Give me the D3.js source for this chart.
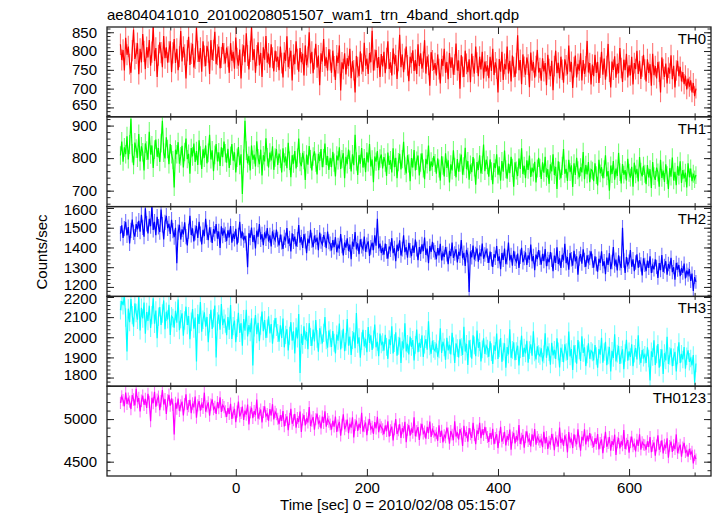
<!DOCTYPE html>
<html><head><meta charset="utf-8">
<script src="https://cdn.jsdelivr.net/npm/d3@7"></script>
<style>body{margin:0;background:#fff} svg{display:block} text{font-family:"Liberation Sans",Arial,Helvetica,sans-serif;}</style>
</head><body><svg id="c" width="717" height="516"></svg>
<script>
const title = "ae804041010_20100208051507_wam1_trn_4band_short.qdp";
const xLabel = "Time [sec] 0 = 2010/02/08 05:15:07";
const yLabel = "Counts/sec";
const bandNames = ["TH0", "TH1", "TH2", "TH3", "TH0123"];
const tStart = -177, binSec = 2;

const th0 = [
818,776,803,748,835,790,812,765,742,801,857,779,794,821,738,806,770,845,799,752,
810,783,829,761,797,866,774,808,731,789,823,796,757,840,781,810,769,798,826,744,
795,832,768,806,749,785,853,772,811,790,727,801,838,763,794,819,756,780,862,799,
771,808,745,826,787,760,814,797,739,829,776,802,851,765,790,812,754,783,821,793,
767,809,785,742,821,774,798,753,836,781,761,804,727,790,815,770,847,788,751,799,
864,776,805,742,788,823,762,795,731,810,777,840,769,793,756,818,782,746,801,772,
785,749,812,768,730,796,774,839,757,781,801,722,790,765,826,778,745,808,770,793,
735,815,762,784,850,767,798,741,779,819,756,788,709,794,772,832,760,783,748,805,
776,742,801,759,723,788,768,815,695,770,752,794,738,781,760,806,728,773,749,690,
787,757,733,799,766,745,822,761,780,739,795,770,854,748,776,803,755,784,731,792,
759,798,741,781,826,752,770,735,807,765,789,726,774,843,757,791,744,779,812,762,
720,785,768,802,747,776,739,818,760,794,753,771,829,740,786,763,708,797,775,750,
768,735,791,752,714,779,760,806,742,771,725,795,756,783,737,764,820,748,775,700,
789,758,731,801,766,744,778,717,793,759,740,812,769,733,785,751,798,727,772,746,
762,728,785,747,806,736,770,753,690,779,745,798,723,766,751,812,740,774,719,788,
757,731,768,842,749,776,712,791,758,737,783,764,704,796,748,771,729,760,803,743,
755,721,781,746,768,709,790,752,733,774,696,760,801,741,769,727,785,750,716,778,
762,738,815,745,771,702,757,788,730,766,748,794,722,776,739,759,827,743,768,711,
764,733,790,742,771,715,756,798,737,780,724,760,819,745,703,772,750,786,729,766,
741,808,755,718,777,749,793,730,762,735,785,711,768,752,801,739,774,726,759,790,
751,719,778,742,765,708,793,736,760,727,771,745,690,783,752,731,767,714,756,740,
789,725,761,703,748,774,733,758,719,744,712,735,698,727,705,722,690,715,680,700];

const th1 = [
808,851,789,833,812,867,796,842,921,815,778,848,829,801,874,790,836,818,762,845,
823,795,881,811,839,770,826,857,804,831,788,846,915,817,799,864,828,781,843,812,
794,710,826,812,849,783,806,838,771,819,860,797,813,752,831,805,845,788,822,779,
855,808,767,827,801,839,784,816,872,796,824,760,810,843,790,818,776,833,803,851,
815,786,829,770,807,843,792,818,756,801,834,778,812,690,798,915,823,784,807,762,
839,795,811,774,852,800,781,826,747,809,790,861,803,771,817,793,836,764,802,828,
779,814,798,756,830,787,805,769,847,792,741,809,783,822,768,801,860,788,775,816,
794,733,811,780,837,797,762,805,821,786,750,813,791,828,772,800,845,779,806,764,
801,772,819,786,744,808,793,833,767,797,815,738,804,781,826,795,759,812,778,872,
790,748,809,783,831,771,800,757,818,787,843,774,796,726,805,789,822,763,799,811,
768,803,786,745,817,779,794,756,830,772,801,738,788,813,765,797,850,776,753,809,
784,729,800,771,825,762,792,808,747,786,815,768,735,798,781,839,760,790,773,806,
785,752,799,768,731,806,777,744,815,770,793,725,781,762,824,773,741,797,758,786,
811,749,775,832,766,791,734,780,757,803,771,718,788,764,809,753,779,842,760,795,
778,743,796,760,720,785,769,812,749,775,731,791,758,823,766,737,783,754,804,770,
712,787,762,745,799,767,830,751,776,738,793,764,808,742,771,756,789,725,768,801,
770,736,787,755,804,742,766,721,781,759,812,748,773,705,790,761,738,776,828,752,
767,730,795,757,778,711,784,748,801,763,741,772,756,819,735,779,750,788,726,765,
761,729,784,748,716,795,753,772,738,766,809,744,760,700,777,751,791,734,768,745,
816,757,722,782,749,763,731,798,755,740,773,712,786,750,767,728,803,758,744,776,
752,720,779,741,766,708,788,745,733,771,756,712,795,739,762,727,781,748,705,769,
743,802,731,758,717,776,746,790,724,763,738,755,710,784,741,768,729,752,735,748];

const th2 = [
1470,1512,1448,1495,1530,1461,1503,1420,1487,1541,1476,1455,1518,1492,
1535,1480,1566,1502,1455,1598,1520,1471,1545,1508,1612,1489,1530,1462,1555,1505,1478,1592,1515,1440,1527,1560,1497,1520,1468,1540,
1485,1452,1500,1320,1478,1515,1440,1492,1466,1528,1455,1410,1482,1561,1463,1497,1431,1474,1509,1448,
1530,1468,1415,1489,1457,1545,1476,1437,1502,1465,1423,1493,1470,1518,1445,1481,1398,1507,1460,1488,
1466,1432,1487,1451,1508,1424,1470,1443,1495,1415,1462,1530,1447,1480,1436,1459,1421,1300,1472,1449,
1501,1428,1463,1395,1485,1454,1519,1440,1467,1412,1477,1446,1498,1430,1461,1405,1482,1452,1436,1490,
1442,1410,1465,1428,1393,1451,1437,1498,1419,1446,1380,1472,1430,1455,1405,1440,1513,1424,1452,1398,
1468,1433,1371,1445,1421,1489,1436,1402,1460,1427,1450,1386,1475,1431,1415,1463,1440,1397,1481,1429,
1418,1385,1437,1402,1452,1376,1411,1394,1468,1408,1360,1425,1399,1446,1382,1415,1340,1430,1404,1478,
1390,1421,1366,1441,1407,1392,1455,1378,1413,1431,1357,1400,1424,1386,1462,1409,1545,1395,1419,1372,
1398,1364,1420,1380,1343,1405,1389,1447,1371,1396,1330,1414,1383,1436,1359,1392,1462,1376,1401,1348,
1423,1385,1356,1409,1373,1440,1391,1335,1402,1368,1416,1381,1450,1362,1394,1320,1407,1377,1428,1386,
1375,1340,1397,1360,1418,1334,1371,1352,1402,1366,1315,1383,1356,1425,1347,1369,1391,1324,1378,1358,
1437,1345,1373,1306,1388,1361,1175,1380,1350,1410,1339,1367,1395,1328,1374,1355,1420,1343,1364,1386,
1358,1322,1379,1340,1301,1366,1348,1407,1331,1355,1290,1372,1337,1394,1315,1351,1425,1334,1362,1308,
1383,1343,1327,1369,1296,1353,1398,1325,1346,1375,1312,1360,1338,1415,1330,1356,1285,1364,1341,1387,
1348,1313,1368,1331,1392,1305,1342,1325,1377,1338,1280,1359,1322,1401,1316,1345,1296,1363,1334,1418,
1320,1351,1287,1372,1340,1308,1383,1329,1355,1262,1344,1366,1318,1390,1336,1302,1360,1327,1347,1380,
1332,1298,1355,1316,1277,1343,1321,1380,1305,1330,1264,1349,1312,1371,1290,1326,1402,1308,1338,1283,
1360,1319,1296,1500,1334,1271,1352,1311,1328,1387,1302,1340,1280,1324,1365,1297,1336,1314,1258,1345,
1312,1280,1334,1296,1355,1271,1308,1289,1340,1302,1246,1321,1285,1362,1276,1306,1330,1262,1316,1293,
1348,1275,1300,1237,1322,1288,1311,1254,1296,1272,1318,1243,1283,1262,1290,1230,1268,1180,1250,1226];

const th3 = [
2135,2180,2160,2205,2098,1930,2142,2075,2190,2110,2052,2168,2121,2087,2200,2034,2146,2093,2172,2018,
2125,2081,2157,2046,2110,2194,2067,2133,1995,2102,2150,2061,2118,2183,2040,2127,2089,2161,2012,2105,
2096,2048,2131,2072,2187,2035,2090,2119,2008,2083,2152,2061,2105,1990,2077,2140,2043,2098,1880,2115,
2066,2175,2028,2087,2124,2053,2101,1975,2070,2136,2041,2094,2158,1900,2079,2113,2037,2165,2060,2092,
2068,2010,2101,2037,2160,1992,2055,2083,1975,2046,2122,2021,2070,1958,2090,2033,2137,2004,2061,2025,
2094,1860,2049,2110,2015,2072,1981,2058,2128,2030,2085,1997,2043,2104,2019,2066,1968,2039,2095,2052,
2021,1978,2060,1996,2093,1950,2012,2040,1935,2008,2075,1983,2030,1920,2049,1994,2115,1823,2017,1962,
2054,1988,2026,1941,2070,2001,1957,2038,1979,2085,1992,1928,2045,2010,1969,2022,2100,1985,1948,2034,
1995,1952,2031,1973,1920,2014,1983,2068,1940,1990,2042,1931,1977,2090,1958,2004,1912,1986,2025,1946,
2120,1968,2000,1899,1981,2037,1955,1992,1926,2051,1972,2010,1937,1989,2063,1950,1978,1906,2018,1965,
1975,1933,2012,1952,1893,1990,1961,2055,1920,1971,2025,1908,1958,1999,1872,1980,1944,2070,1930,1967,
1915,2003,1952,1986,1885,1962,2038,1926,1973,1948,2010,1902,1964,1991,1938,2080,1955,1918,1983,1942,
1932,1969,1903,1940,2045,1922,1978,1950,1888,1997,1935,1963,1915,2022,1955,1873,1970,1946,1900,1990,
1951,1912,2052,1929,1967,1862,1985,1943,1894,2010,1960,1906,2033,1948,1976,1880,1940,1995,1917,1958,
1944,1903,1980,1926,1867,1960,1933,2018,1892,1945,1996,1878,1929,1970,1849,1951,1915,2040,1898,1937,
1975,1886,1931,1958,1860,1941,2008,1902,1948,1920,1983,1874,1936,1965,1908,2030,1925,1890,1955,1917,
1907,1945,1880,1915,2020,1898,1955,1926,1864,1973,1910,1938,1892,1995,1930,1850,1948,1921,1876,1965,
1927,1888,2028,1905,1941,1838,1960,1918,1869,1986,1935,1882,2005,1922,1950,1857,1915,1970,1893,1933,
1925,1885,1961,1907,1849,1942,1914,1997,1874,1927,1978,1861,1910,1952,1830,1933,1897,2015,1880,1919,
1957,1868,1913,1940,1842,1922,1987,1884,1930,1902,1965,1856,1918,1947,1890,2010,1907,1872,1937,1899,
1913,1873,1950,1895,1785,1930,1902,1985,1862,1915,1966,1849,1898,1940,1818,1921,1885,2003,1868,1907,
1945,1856,1901,1928,1830,1910,1975,1872,1918,1890,1952,1844,1906,1935,1878,1895,1860,1912,1775,1870];

const th0123 = [
5190,5265,5222,5150,5310,5178,5240,5205,5118,5282,5230,5160,5355,5199,5247,5090,5215,5276,5168,5238,
5130,5296,5201,4975,5250,5187,5320,5145,5228,5263,5105,5210,5340,5172,5235,5060,5218,5285,5157,5244,
5168,4820,5189,5122,5240,5095,5160,5205,5043,5176,5290,5110,5152,5227,5070,5183,5138,5265,5015,5162,
5210,5098,5175,5130,5310,5087,5150,5196,5040,5171,5232,5116,5143,5060,5200,5127,5255,5085,5165,5140,
5092,5025,5128,5061,5180,5003,5077,5120,4965,5088,5205,5030,5071,5146,4990,5100,5052,5170,4938,5080,
5133,5012,5095,5047,5230,5005,5066,5112,4960,5083,5150,5035,5060,4980,5118,5042,5175,4997,5085,5056,
5003,4940,5045,4978,5095,4915,4990,5032,4870,5000,5120,4945,4987,5060,4900,5012,4965,5088,4850,4995,
5048,4925,5010,4960,5140,4918,4982,5025,4875,4998,5065,4950,4975,4890,5030,4955,5092,4910,5000,4970,
4938,4877,4980,4912,5030,4850,4925,4967,4805,4935,5055,4880,4922,4995,4835,4947,4900,5022,4785,4930,
4983,4860,4945,4895,5075,4853,4917,4960,4810,4933,5000,4885,4910,4825,4965,4890,5027,4845,4935,4905,
4880,4822,4925,4858,4975,4795,4870,4912,4750,4880,5000,4825,4867,4940,4780,4892,4845,4967,4730,4875,
4928,4805,4890,4840,5020,4798,4862,4905,4755,4878,4945,4830,4855,4770,4910,4835,4972,4790,4880,4850,
4805,4835,4745,4927,4790,4865,4725,4810,4785,4900,4833,4710,4860,4817,4753,4975,4795,4845,4760,4883,
4830,4685,4922,4800,4847,4735,4895,4822,4780,4955,4813,4705,4867,4825,4955,4777,4880,4813,4910,4835,
4790,4732,4835,4768,4885,4705,4780,4822,4660,4790,4910,4735,4777,4850,4690,4802,4755,4877,4640,4785,
4838,4715,4800,4750,4930,4708,4772,4815,4665,4788,4855,4740,4765,4680,4820,4745,4882,4700,4790,4760,
4730,4760,4670,4852,4715,4790,4650,4735,4710,4825,4758,4635,4785,4742,4678,4900,4720,4770,4685,4808,
4755,4610,4847,4725,4772,4660,4820,4747,4705,4880,4738,4630,4792,4750,4880,4702,4805,4738,4835,4760,
4730,4672,4775,4708,4825,4645,4720,4762,4600,4730,4850,4675,4717,4790,4630,4742,4695,4817,4580,4725,
4778,4655,4740,4690,4870,4648,4712,4755,4605,4728,4795,4680,4705,4620,4760,4685,4822,4640,4730,4700,
4695,4640,4740,4672,4790,4612,4685,4725,4570,4692,4810,4640,4678,4750,4598,4700,4658,4775,4548,4685,
4735,4615,4695,4648,4820,4600,4660,4700,4560,4668,4720,4610,4630,4560,4650,4590,4620,4480,4575,4530];

const series = [th0, th1, th2, th3, th0123];
const yTicks = [[650,700,750,800,850],[700,800,900],[1200,1300,1400,1500,1600],[1800,1900,2000,2100,2200],[4500,5000]];
const yMinorStep = [10, 20, 20, 20, 100];
const yDomains = [[625,864],[651,927],[1152,1607],[1757,2203],[4332,5386]];
const xDomain = [-196.5, 725];
const xTickMajor = [0, 200, 400, 600];
const xTickMinor = [-100, 100, 300, 500, 700];
const colors = ["#ff0000", "#00ff00", "#0000ff", "#00ffff", "#ff00ff"];

const svg = d3.select("#c");
const L = 107, R = 711, T0 = 27, PH = 89.8;
const x = d3.scaleLinear().domain(xDomain).range([L, R]);
const FS = 15;

svg.append("text").attr("x", 107).attr("y", 19.5).attr("font-size", FS).attr("fill", "#000").text(title);

series.forEach((vals, k) => {
  const top = T0 + k * PH, bot = top + PH;
  const y = d3.scaleLinear().domain(yDomains[k]).range([bot, top]);
  const g = svg.append("g");
  const cid = "clip" + k;
  svg.append("clipPath").attr("id", cid).append("rect").attr("x", L).attr("y", top).attr("width", R - L).attr("height", PH);
  const dg = g.append("g").attr("clip-path", `url(#${cid})`);
  const cx = i => x(tStart + binSec * (i + 0.5));
  // error bars
  dg.selectAll("line.err").data(vals).enter().append("line")
    .attr("x1", (v, i) => cx(i)).attr("x2", (v, i) => cx(i))
    .attr("y1", v => y(v - Math.sqrt(v)))
    .attr("y2", v => y(v + Math.sqrt(v)))
    .attr("stroke", colors[k]).attr("stroke-opacity", 0.55).attr("stroke-width", 1.1);
  const line = d3.line().x((v, i) => cx(i)).y(v => y(v));
  dg.append("path").attr("d", line(vals)).attr("fill", "none").attr("stroke", colors[k])
    .attr("stroke-width", 1.2);

  const minor = d3.range(Math.ceil(yDomains[k][0] / yMinorStep[k]) * yMinorStep[k], yDomains[k][1], yMinorStep[k]);
  const axStyle = sel => { sel.select(".domain").remove(); sel.selectAll(".tick line").attr("stroke", "#222"); };
  // left
  g.append("g").attr("transform", `translate(${L},0)`)
    .call(d3.axisLeft(y).tickValues(minor).tickSize(-3.5).tickFormat("")).call(axStyle);
  const la = g.append("g").attr("transform", `translate(${L},0)`)
    .call(d3.axisLeft(y).tickValues(yTicks[k]).tickSize(-7).tickPadding(10).tickFormat(d3.format("d"))).call(axStyle);
  la.selectAll("text").attr("font-size", FS).attr("fill", "#000").attr("font-family", '"Liberation Sans",Arial,sans-serif')
    .attr("dy", d => (y(d) - top < 4 ? "0.45em" : (bot - y(d) < 12 ? "0.15em" : "0.32em")));
  // right
  g.append("g").attr("transform", `translate(${R},0)`)
    .call(d3.axisRight(y).tickValues(minor).tickSize(-3.5).tickFormat("")).call(axStyle);
  g.append("g").attr("transform", `translate(${R},0)`)
    .call(d3.axisRight(y).tickValues(yTicks[k]).tickSize(-7).tickFormat("")).call(axStyle);
  // top
  g.append("g").attr("transform", `translate(0,${top})`)
    .call(d3.axisTop(x).tickValues(xTickMinor).tickSize(-3.5).tickFormat("")).call(axStyle);
  g.append("g").attr("transform", `translate(0,${top})`)
    .call(d3.axisTop(x).tickValues(xTickMajor).tickSize(-7).tickFormat("")).call(axStyle);
  // bottom
  g.append("g").attr("transform", `translate(0,${bot})`)
    .call(d3.axisBottom(x).tickValues(xTickMinor).tickSize(-3.5).tickFormat("")).call(axStyle);
  const bx = g.append("g").attr("transform", `translate(0,${bot})`)
    .call(d3.axisBottom(x).tickValues(xTickMajor).tickSize(-7).tickPadding(6)
      .tickFormat(k === series.length - 1 ? d3.format("d") : "")).call(axStyle);
  bx.selectAll("text").attr("font-size", FS).attr("fill", "#000").attr("font-family", '"Liberation Sans",Arial,sans-serif');
  // frame
  g.append("rect").attr("x", L).attr("y", top).attr("width", R - L).attr("height", PH)
    .attr("fill", "none").attr("stroke", "#222").attr("stroke-width", 1.3);
  // band label
  g.append("text").attr("x", 706).attr("y", top + 17).attr("text-anchor", "end")
    .attr("font-size", FS).attr("fill", "#000").text(bandNames[k]);
});

svg.append("text").attr("x", 398).attr("y", 510).attr("text-anchor", "middle")
  .attr("font-size", FS).attr("fill", "#000").text(xLabel);
svg.append("text").attr("transform", "translate(47,252) rotate(-90)").attr("text-anchor", "middle")
  .attr("font-size", FS).attr("fill", "#000").text(yLabel);
</script></body></html>
